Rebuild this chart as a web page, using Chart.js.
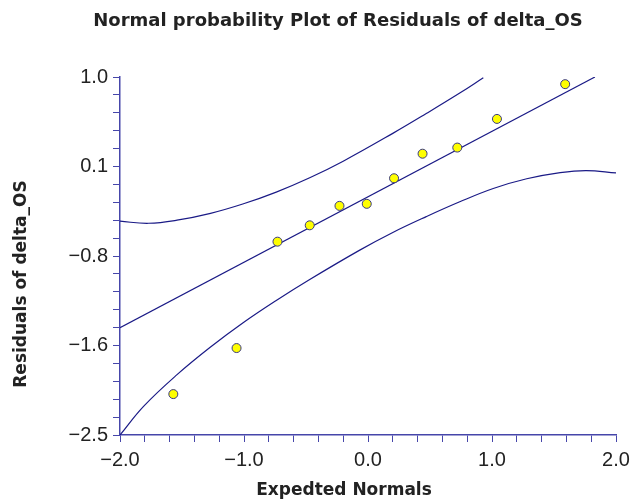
<!DOCTYPE html>
<html>
<head>
<meta charset="utf-8">
<script src="https://cdn.jsdelivr.net/npm/chart.js@4/dist/chart.umd.min.js"></script>
<style>
body{margin:0;background:#fff;}
#wrap{width:638px;height:500px;}
</style>
</head>
<body onload="initBody()">
<div id="wrap"><canvas id="canvasG1" width="638" height="500"></canvas></div>
<script>
//차트 데이터
var expNormals = [-1.57, -1.06, -0.73, -0.47, -0.23, -0.01, 0.21, 0.44, 0.72, 1.04, 1.59];
var residuals  = [-2.10, -1.65, -0.61, -0.45, -0.26, -0.24, 0.01, 0.25, 0.31, 0.59, 0.93];

//기준선
var refLineX = [-2.0, 1.83];
var refLineY = [-1.45, 1.0];

//신뢰구간 위
var upperX = [-2.0, -1.77, -1.54, -1.27, -1.01, -0.74, -0.47, -0.20, 0.20, 0.47, 0.74, 0.93];
var upperY = [-0.41, -0.43, -0.40, -0.333, -0.242, -0.125, 0.015, 0.177, 0.449, 0.643, 0.843, 0.993];

//신뢰구간 아래
var lowerX = [-2.0, -1.81, -1.54, -1.27, -1.01, -0.74, -0.47, -0.07, 0.20, 0.47, 0.74, 1.01, 1.28, 1.55, 1.76, 2.0];
var lowerY = [-2.50, -2.22, -1.91, -1.64, -1.405, -1.185, -0.98, -0.695, -0.52, -0.365, -0.22, -0.09, 0.005, 0.065, 0.085, 0.062];

//축 눈금
var xTickValues = [-2.0, -1.0, 0.0, 1.0, 2.0];
var xTickLabels = ["\u22122.0", "\u22121.0", "0.0", "1.0", "2.0"];
var yTickValues = [-2.5, -1.625, -0.75, 0.125, 1.0];
var yTickLabels = ["\u22122.5", "\u22121.6", "\u22120.8", "0.1", "1.0"];

var chartTitle = "Normal probability Plot of Residuals of delta_OS";
var xTitle = "Expedted Normals";
var yTitle = "Residuals of delta_OS";

var lineColor = "#1a1a86";
var axisColor = "#4646aa";

function toPoints(xs, ys){
	var pts = [];
	for(var i=0;i<xs.length;i++){
		pts.push({x: xs[i], y: ys[i]});
	}
	return pts;
}

//주눈금 사이 5칸 보조눈금
function minorTicks(majors){
	var t = [];
	for(var i=0;i<majors.length-1;i++){
		var step = (majors[i+1]-majors[i])/5;
		for(var k=0;k<5;k++) t.push({value: majors[i]+step*k});
	}
	t.push({value: majors[majors.length-1]});
	return t;
}

function tickLabel(values, labels, v){
	for(var i=0;i<values.length;i++){
		if(Math.abs(values[i]-v) < 1e-6) return labels[i];
	}
	return "";
}

//제목 그리기
var titlePlugin = {
	id: "titlesG1",
	afterDraw: function(chart){
		var ctx = chart.ctx;
		ctx.save();
		ctx.fillStyle = "#222";
		ctx.textAlign = "center";
		ctx.textBaseline = "alphabetic";
		ctx.font = "bold 18px 'DejaVu Sans'";
		ctx.fillText(chartTitle, 338, 26);
		ctx.font = "bold 17px 'DejaVu Sans'";
		ctx.fillText(xTitle, 344, 495);
		ctx.translate(26, 284);
		ctx.rotate(-Math.PI/2);
		ctx.fillText(yTitle, 0, 0);
		ctx.restore();
	}
};

function initBody(){
	CHART_INIT();
}

function CHART_INIT(){
	var ctx = document.getElementById("canvasG1").getContext("2d");
	var tickFont = {family: "'Liberation Sans', Arial, sans-serif", size: 20};
	window.myChartG1 = new Chart(ctx, {
		type: "scatter",
		data: {
			datasets: [
				{
					label: "residuals",
					data: toPoints(expNormals, residuals),
					backgroundColor: "#ffff00",
					borderColor: "#3a3a80",
					borderWidth: 1,
					pointRadius: 4.5,
					order: 0
				},
				{
					label: "ref",
					data: toPoints(refLineX, refLineY),
					showLine: true,
					borderColor: lineColor,
					borderWidth: 1.2,
					pointRadius: 0,
					order: 1
				},
				{
					label: "upper",
					data: toPoints(upperX, upperY),
					showLine: true,
					borderColor: lineColor,
					borderWidth: 1.2,
					pointRadius: 0,
					tension: 0.4,
					order: 2
				},
				{
					label: "lower",
					data: toPoints(lowerX, lowerY),
					showLine: true,
					borderColor: lineColor,
					borderWidth: 1.2,
					pointRadius: 0,
					tension: 0.4,
					order: 3
				}
			]
		},
		options: {
			responsive: false,
			animation: false,
			events: [],
			layout: { padding: {left: 0, right: 22, top: 77, bottom: 0} },
			plugins: {
				legend: {display: false},
				tooltip: {enabled: false}
			},
			scales: {
				x: {
					type: "linear",
					min: -2, max: 2,
					afterBuildTicks: function(s){ s.ticks = minorTicks(xTickValues); },
					afterFit: function(s){ s.height = 65; },
					grid: {drawOnChartArea: false, drawTicks: true, tickLength: 7, color: axisColor},
					border: {display: true, color: axisColor, width: 1.5},
					ticks: {
						autoSkip: false, maxRotation: 0, padding: 6,
						color: "#222", font: tickFont,
						callback: function(v){ return tickLabel(xTickValues, xTickLabels, v); }
					}
				},
				y: {
					type: "linear",
					min: -2.5, max: 1.0,
					afterBuildTicks: function(s){ s.ticks = minorTicks(yTickValues); },
					afterFit: function(s){ s.width = 120; },
					grid: {drawOnChartArea: false, drawTicks: true, tickLength: 7, color: axisColor},
					border: {display: true, color: axisColor, width: 1.5},
					ticks: {
						autoSkip: false, padding: 5,
						color: "#222", font: tickFont,
						callback: function(v){ return tickLabel(yTickValues, yTickLabels, v); }
					}
				}
			}
		},
		plugins: [titlePlugin]
	});
}
</script>
</body>
</html>
